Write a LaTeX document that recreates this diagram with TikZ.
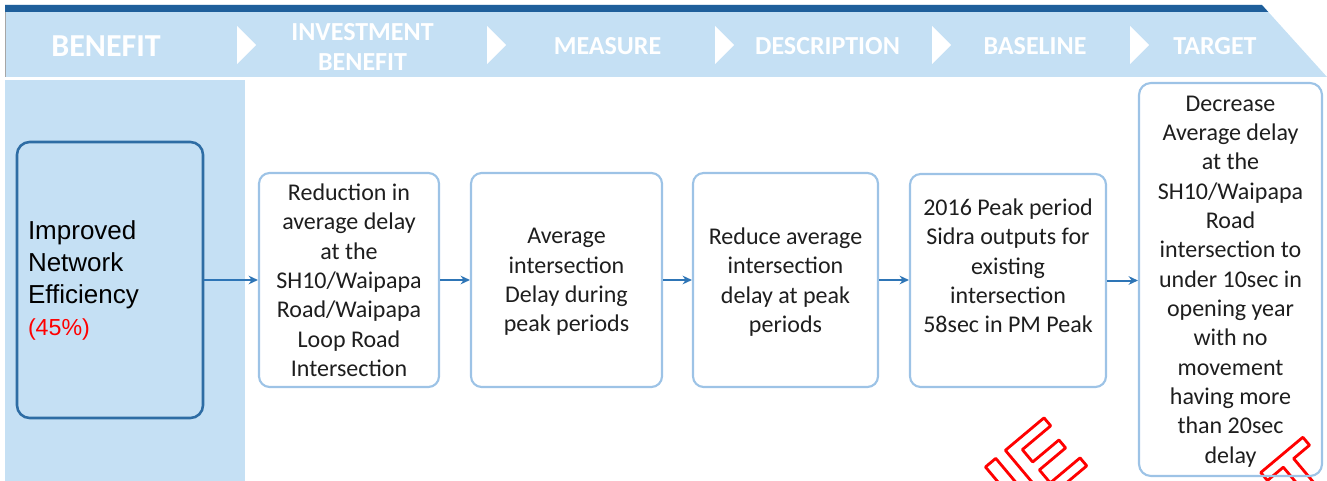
\documentclass[tikz,border=0pt]{standalone}
\usepackage{fontspec}
\setmainfont{Carlito}
\newfontfamily\arialf{Liberation Sans}
\usetikzlibrary{arrows.meta,calc}
\definecolor{band}{RGB}{197,224,244}
\definecolor{darkbar}{RGB}{31,95,155}
\definecolor{darkblue}{RGB}{46,109,164}
\definecolor{lightblue}{RGB}{157,195,230}
\definecolor{arrowblue}{RGB}{46,117,182}
\definecolor{txt}{RGB}{30,30,30}
\newcommand\wmtext[3]{%
  \node[wm] (#3) at (#1) {\special{pdf:literal 1 Tr 2.1 w 1 j 1 J 1 0 0 RG}#2};}
\begin{document}
\begin{tikzpicture}[x=0.75pt,y=-0.75pt,
  hdr/.style={text=white,font=\fontsize{19.5}{22.5}\selectfont\bfseries,align=center,inner sep=0},
  mainbox/.style={draw=darkblue,line width=1.9pt,rounded corners=9.5pt,minimum width=139.5pt,minimum height=207pt,text width=123pt,align=left,inner sep=0,text=black,font=\arialf\fontsize{19.5}{24}\selectfont},
  stepbox/.style={draw=lightblue,line width=1.6pt,rounded corners=8pt,align=center,inner sep=0,text depth=0pt,text=txt,font=\fontsize{18}{22}\selectfont},
  arr/.style={draw=arrowblue,line width=1.5pt,-{Stealth[length=7pt,width=6.5pt]}},
  wm/.style={rotate=40,anchor=base west,inner sep=0,text=white,font=\arialf\bfseries\fontsize{70}{70}\selectfont}]
\useasboundingbox (0,0) rectangle (1327,481);
% watermark
\begin{scope}
  \clip (0,0) rectangle (1327,481);
  \wmtext{990,547}{HE}{wm1}
  \wmtext{1301,522.6}{T}{wm2}
\end{scope}
% header
\fill[band] (5,5) -- (1262,5) -- (1327,77) -- (5,77) -- cycle;
\fill[darkbar] (5,5) -- (1262,5) -- (1268.3,12) -- (5,12) -- cycle;
\draw[black!35,line width=0.6pt] (5,12) -- (5,77);
\foreach \cx in {237,487,715,932,1130}{
  \fill[white] (\cx,26) -- (\cx+19,45) -- (\cx,64) -- cycle;}
\node[hdr,font=\fontsize{24}{24}\selectfont\bfseries] (h1) at (106,46) {BENEFIT};
\node[hdr] (h2) at (362.5,47) {INVESTMENT\\BENEFIT};
\node[hdr] (h3) at (607.5,46) {MEASURE};
\node[hdr] (h4) at (827.5,46) {DESCRIPTION};
\node[hdr] (h5) at (1035,46) {BASELINE};
\node[hdr] (h6) at (1215,46) {TARGET};
% left column
\fill[band] (5,80) rectangle (245,481);
% boxes
\node[mainbox] (b1) at (110,280) {Improved\\Network\\Efficiency\\{\color{red}\fontsize{17.4}{24}\selectfont(45\%)}};
\node[stepbox,minimum width=135pt,minimum height=160.5pt] (b2) at (349,280)
  {Reduction in\\average delay\\at the\\SH10/Waipapa\\Road/Waipapa\\Loop Road\\Intersection};
\node[stepbox,minimum width=143.25pt,minimum height=160.5pt] (b3) at (566.5,280)
  {Average\\intersection\\Delay during\\peak periods};
\node[stepbox,minimum width=138.75pt,minimum height=160.5pt] (b4) at (785.5,280)
  {Reduce average\\intersection\\delay at peak\\periods};
\node[stepbox,minimum width=147pt,minimum height=159.75pt] (b5) at (1008,280.5)
  {2016 Peak period\\Sidra outputs for\\existing\\intersection\\58sec in PM Peak\\\mbox{}};
\node[stepbox,minimum width=137.25pt,minimum height=294.75pt,rounded corners=9pt] (b6) at (1230.5,279.5)
  {Decrease\\Average delay\\at the\\SH10/Waipapa\\Road\\intersection to\\under 10sec in\\opening year\\with no\\movement\\having more\\than 20sec\\delay};
% arrows
\draw[arr] (b1.east) -- (b1.east -| b2.west);
\draw[arr] (b2.east) -- (b2.east -| b3.west);
\draw[arr] (b3.east) -- (b3.east -| b4.west);
\draw[arr] (b4.east) -- (b4.east -| b5.west);
\draw[arr] (b5.east) -- (b5.east -| b6.west);
\end{tikzpicture}
\end{document}
